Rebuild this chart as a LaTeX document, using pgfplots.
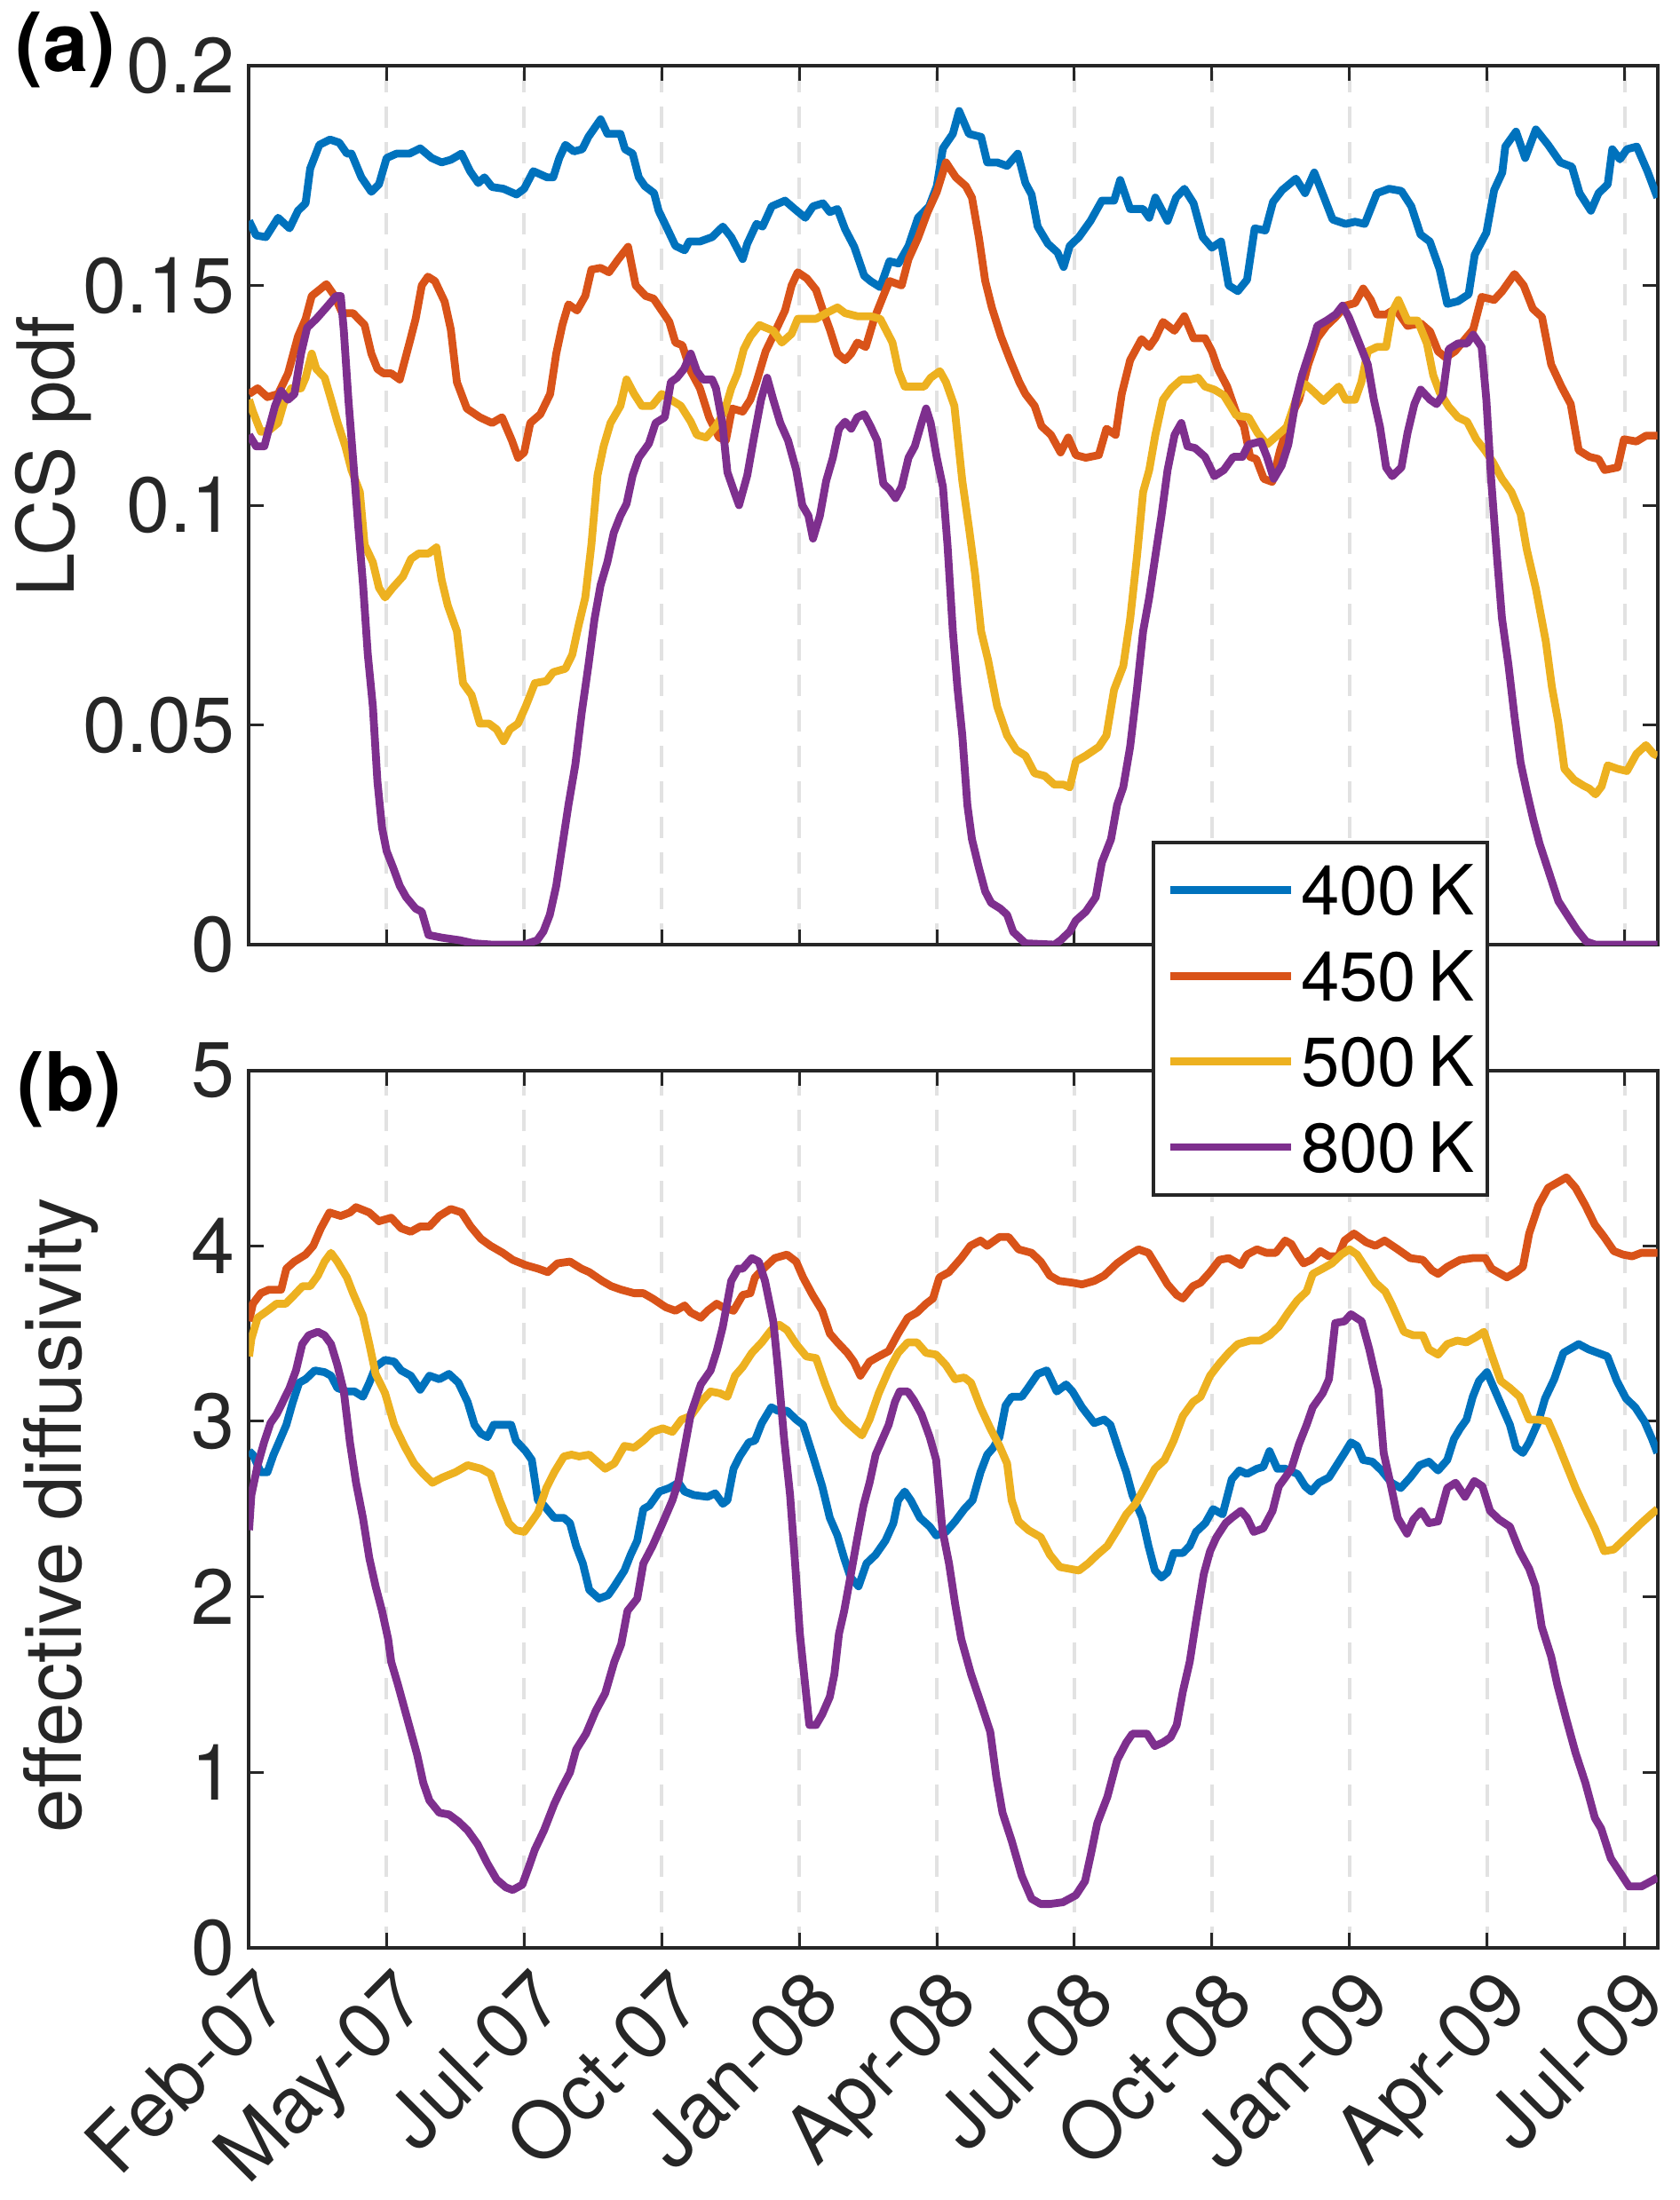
\documentclass[border=0pt]{standalone}
\usepackage{fontspec}
\setmainfont{TeX Gyre Heros}
\usepackage{pgfplots}
\pgfplotsset{compat=1.18}
\definecolor{c1}{HTML}{0072BD}
\definecolor{c2}{HTML}{D95319}
\definecolor{c3}{HTML}{EDB120}
\definecolor{c4}{HTML}{7E2F8E}
\definecolor{axgray}{HTML}{262626}
\definecolor{gridgray}{HTML}{E2E2E2}
\pgfplotsset{
  myaxis/.style={
    scale only axis, width=396.5pt,
    xmin=0, xmax=921.5,
    xtick={0,90,...,900},
    tick align=inside,
    major tick length=4.25pt,
    every tick/.style={axgray, line width=0.75pt},
    axis line style={axgray, line width=1pt},
    xmajorgrids, grid style={gridgray, line width=1pt, dash pattern=on 6pt off 4pt},
    tick label style={font=\fontsize{22}{22}\selectfont, text=axgray},
    yticklabel style={anchor=east, inner sep=0pt, xshift=-3.8pt},
    ylabel style={font=\fontsize{22.2}{22.2}\selectfont, text=axgray, anchor=center, inner sep=0pt},
    every axis plot/.append style={line width=2.2pt, line join=round},
  }
}
\begin{document}
\begin{tikzpicture}
\useasboundingbox (0,0) rectangle (473pt,-619.5pt);
\begin{axis}[myaxis, at={(70.125pt,-266pt)}, anchor=south west, height=247.5pt,
  ymin=0, ymax=0.2, ytick={0,0.05,0.1,0.15,0.2}, yticklabels={0,0.05,0.1,0.15,0.2},
  xticklabels={}, ylabel={LCS pdf},
  ylabel style={at={(axis description cs:-0.139,0.5556)}}]
\addplot[c1] coordinates {(0,0.1647) (4.6,0.1614) (11,0.161) (19,0.1654) (26.5,0.163) (32,0.167) (37,0.1687) (40,0.1766) (46,0.182) (53,0.1832) (59,0.1825) (64,0.180) (67,0.180) (73.5,0.1746) (80,0.1713) (85,0.173) (90,0.179) (96.5,0.180) (105,0.180) (112,0.1812) (119.5,0.179) (126,0.178) (132,0.1786) (139,0.180) (144.6,0.176) (150,0.1733) (154,0.1746) (159,0.1724) (166.5,0.172) (175,0.1707) (180,0.172) (186,0.176) (195,0.1746) (199,0.1746) (203,0.179) (207,0.182) (212.5,0.1805) (218,0.181) (222,0.1838) (230,0.1878) (234.5,0.1845) (243,0.1845) (246,0.181) (251,0.180) (255,0.1746) (259,0.1726) (265,0.171) (268,0.167) (273,0.1634) (279,0.159) (285,0.158) (288,0.160) (295,0.160) (303,0.161) (310,0.1634) (315.5,0.161) (323,0.156) (326,0.1595) (332,0.164) (336,0.1634) (342,0.168) (350.7,0.1693) (357,0.1674) (364,0.1654) (369,0.168) (375.5,0.1687) (380,0.1667) (385,0.1674) (390,0.1628) (396,0.1588) (402.5,0.1522) (406.6,0.151) (413,0.1496) (419,0.1555) (425,0.155) (431.5,0.159) (437.7,0.1654) (445,0.168) (450,0.1726) (454,0.1812) (460.5,0.1845) (464.6,0.1897) (471,0.1845) (479,0.1838) (483,0.178) (489.5,0.178) (496,0.1772) (503,0.180) (508,0.1733) (512,0.1707) (516,0.1634) (522.7,0.1595) (529,0.1575) (533,0.1542) (537,0.159) (543,0.161) (550.6,0.1647) (558,0.1693) (566,0.1693) (570,0.174) (576.5,0.1674) (585,0.1674) (589,0.1654) (593,0.170) (601,0.1647) (606.6,0.170) (612,0.172) (618,0.1687) (624,0.161) (630,0.1586) (636,0.160) (641,0.150) (647,0.1487) (653,0.1513) (658,0.163) (665,0.1625) (670,0.169) (676,0.1717) (685,0.1743) (691,0.171) (697,0.1757) (703,0.1704) (709,0.165) (717.5,0.164) (723.7,0.1645) (730,0.164) (738,0.171) (746,0.172) (754,0.1715) (760.5,0.168) (766.5,0.1616) (772.6,0.160) (779,0.1537) (784,0.1458) (791,0.1464) (798,0.148) (802,0.157) (809.6,0.162) (814.7,0.1717) (820,0.1757) (822,0.1816) (829,0.185) (835,0.179) (842,0.1855) (850,0.182) (858,0.178) (865.6,0.177) (870.6,0.171) (878,0.167) (883,0.171) (889,0.173) (892,0.181) (897,0.1787) (901.6,0.181) (908,0.1816) (915,0.176) (921.5,0.170)};
\addplot[c2] coordinates {(0,0.1253) (5.6,0.1266) (12,0.1246) (19,0.1253) (25.5,0.130) (32,0.1384) (37,0.1424) (41,0.1476) (46,0.149) (50.6,0.1503) (56,0.1476) (61,0.1437) (68,0.1437) (75.6,0.141) (80,0.1345) (84,0.131) (88,0.130) (93,0.130) (98.6,0.1286) (105,0.137) (109,0.1424) (113,0.150) (117,0.152) (121.6,0.151) (128,0.1463) (132,0.140) (136,0.128) (142.5,0.122) (151,0.120) (159,0.1187) (165.5,0.120) (172,0.1147) (176,0.1108) (180,0.112) (184,0.1187) (190.6,0.1207) (197,0.1253) (201,0.1345) (205,0.141) (209,0.1457) (214.6,0.1443) (220,0.1476) (224,0.1536) (230,0.154) (235.5,0.153) (241.7,0.156) (248,0.1588) (253,0.150) (259.5,0.1476) (264.7,0.147) (270,0.1443) (275,0.1417) (279,0.137) (283.5,0.1364) (289,0.1305) (295,0.1266) (301,0.120) (307.5,0.1154) (312,0.1147) (316,0.122) (323,0.1213) (328,0.124) (332,0.128) (338,0.135) (344.5,0.1397) (350.7,0.1443) (355,0.150) (359,0.153) (365,0.1516) (371,0.149) (375.5,0.1443) (380,0.140) (385,0.1345) (390,0.133) (394,0.1345) (398,0.137) (403.5,0.136) (409,0.1424) (415,0.1476) (419,0.151) (427,0.150) (431.5,0.156) (437.7,0.1608) (444,0.1667) (450,0.1713) (456,0.178) (462.5,0.1746) (469,0.1726) (473,0.170) (477.6,0.1608) (481.7,0.151) (486,0.145) (492,0.1384) (498,0.133) (504,0.128) (508,0.1253) (514,0.1226) (518.5,0.118) (524.7,0.116) (531,0.112) (536,0.1154) (541,0.1114) (547.5,0.1108) (556,0.1114) (561,0.1174) (567,0.116) (571,0.1253) (576.5,0.133) (584,0.1378) (589,0.136) (593,0.138) (598,0.1417) (605.5,0.1397) (612,0.143) (618,0.138) (625.5,0.138) (630,0.135) (634,0.131) (640,0.127) (646,0.121) (651,0.118) (655,0.111) (659,0.1105) (664,0.106) (669.5,0.1053) (674.6,0.1125) (681,0.1197) (687,0.124) (693,0.132) (699,0.138) (705,0.1408) (711,0.1428) (717.5,0.1454) (723.7,0.146) (729,0.1493) (734,0.1467) (738,0.1434) (744,0.1434) (750,0.1447) (758,0.1408) (766.6,0.1414) (772.8,0.1395) (778,0.135) (783,0.1336) (789,0.135) (795,0.1375) (801,0.140) (806.5,0.1474) (814.7,0.1467) (820,0.1487) (828,0.1526) (834,0.150) (840,0.1447) (846,0.1428) (852,0.132) (858.7,0.127) (864.8,0.123) (870,0.1125) (877,0.111) (883,0.1105) (887,0.108) (895.5,0.1086) (899.6,0.115) (907.8,0.1145) (914,0.1158) (921.5,0.1158)};
\addplot[c3] coordinates {(0,0.124) (2.5,0.1213) (7.7,0.1167) (13,0.117) (19,0.1187) (23.4,0.124) (27.6,0.1266) (34,0.1266) (37,0.129) (41,0.1345) (44,0.131) (49.5,0.129) (53.7,0.124) (58,0.1187) (63,0.1134) (67,0.108) (72.5,0.103) (75.6,0.091) (81,0.087) (85,0.0812) (89,0.079) (94,0.0812) (100.7,0.0838) (106,0.0878) (111,0.089) (117.4,0.089) (122.6,0.0904) (126,0.083) (130,0.0772) (136,0.0713) (140,0.0595) (145.6,0.0568) (151,0.0503) (157,0.0503) (162,0.049) (166.5,0.0463) (170.7,0.049) (176,0.0503) (181,0.0542) (187,0.0595) (194.7,0.060) (199,0.062) (207,0.0628) (211.5,0.066) (215.6,0.0726) (220,0.079) (224,0.091) (228,0.1068) (232,0.1134) (236.5,0.1187) (243,0.1226) (247,0.1286) (252,0.1253) (257,0.1226) (263.7,0.1226) (270,0.1253) (276,0.124) (282.5,0.1226) (289,0.119) (293,0.116) (299,0.1154) (305.5,0.118) (311,0.1213) (315.5,0.1266) (319.6,0.130) (323.7,0.1355) (328,0.1384) (334,0.141) (338,0.1404) (343,0.1397) (348.6,0.137) (355,0.139) (359,0.1424) (365,0.1424) (371,0.1424) (377.6,0.1437) (385,0.145) (390,0.1437) (398,0.143) (406.6,0.143) (413,0.1424) (417,0.1397) (421,0.137) (425,0.1305) (429,0.127) (435.6,0.127) (441.8,0.127) (446,0.129) (452,0.1305) (456,0.128) (461.5,0.1226) (466.7,0.1055) (471,0.095) (475,0.0845) (479,0.0713) (483.6,0.0647) (489.5,0.0542) (496,0.0476) (502,0.0443) (508,0.043) (514,0.039) (520.6,0.0384) (527,0.0364) (533,0.0364) (537,0.0358) (541,0.0417) (547.5,0.043) (556,0.045) (561,0.0476) (566,0.058) (572,0.0634) (576.5,0.074) (581,0.0884) (585,0.103) (589,0.108) (593,0.116) (598,0.124) (603.5,0.1266) (610,0.1286) (616,0.1286) (621,0.129) (625.5,0.127) (631.6,0.1263) (637.8,0.125) (646,0.1204) (654,0.120) (660,0.1164) (666,0.1138) (672.6,0.1158) (679,0.1178) (685,0.124) (691,0.1276) (697,0.1257) (703,0.1237) (709,0.1257) (713,0.127) (717.5,0.124) (723.7,0.124) (727.8,0.128) (732,0.135) (738,0.136) (744,0.136) (748,0.144) (752,0.1467) (758,0.142) (764.6,0.142) (770.7,0.1368) (774.8,0.1296) (779,0.1257) (785,0.1224) (791,0.120) (797,0.119) (803,0.115) (808.6,0.1125) (813.7,0.1099) (819.8,0.106) (826,0.103) (832,0.098) (836,0.090) (842,0.081) (848.5,0.069) (852.5,0.0586) (856.6,0.0507) (860.7,0.040) (867,0.0375) (873,0.0362) (877,0.0355) (881,0.0342) (885,0.036) (889,0.0408) (895.5,0.040) (901.6,0.0395) (907.8,0.0434) (914,0.0454) (919,0.0434) (921.5,0.043)};
\addplot[c4] coordinates {(0,0.116) (4.6,0.1134) (10,0.1134) (13,0.1174) (17,0.1226) (21,0.126) (25.5,0.124) (29.7,0.1253) (34,0.1345) (38,0.1404) (44,0.1424) (50.6,0.145) (57,0.1476) (60,0.1476) (62,0.1397) (65,0.124) (68,0.1108) (71.5,0.095) (74.6,0.0818) (77.7,0.066) (81,0.0542) (84,0.0371) (87,0.0266) (90,0.0213) (94.4,0.0174) (98.6,0.0134) (102.8,0.0108) (109,0.0082) (113,0.0075) (117.4,0.0022) (126,0.0016) (138,0.001) (147,0.0003) (159,0) (180,0) (188.5,0.001) (192.6,0.003) (196.8,0.0068) (201,0.0134) (205,0.0226) (209,0.0318) (213.5,0.041) (217.7,0.0529) (222,0.0634) (226,0.074) (230,0.0818) (234.5,0.0871) (238.6,0.0937) (243,0.0976) (247,0.1003) (251,0.1068) (255,0.1108) (261.6,0.114) (266,0.1187) (272,0.120) (276,0.128) (280,0.129) (284.6,0.131) (289,0.1345) (293,0.1305) (297,0.1286) (303,0.1286) (305.5,0.1266) (309.7,0.1187) (313,0.1075) (317.5,0.103) (320.6,0.100) (326,0.1068) (330,0.1147) (335,0.124) (339,0.129) (343,0.124) (347.6,0.1187) (352.7,0.1147) (358,0.108) (362,0.100) (366,0.0976) (369,0.0924) (373.5,0.0976) (377.6,0.1055) (382,0.1108) (386,0.1174) (390,0.119) (394,0.1174) (398,0.120) (402.5,0.1207) (406.6,0.118) (411,0.1147) (415,0.1049) (419,0.1036) (423,0.1016) (427,0.1042) (431.5,0.1108) (435.6,0.1134) (440,0.1187) (443,0.122) (446,0.1187) (450,0.1108) (454,0.1042) (457,0.091) (460.5,0.0713) (463.6,0.0582) (466.7,0.0476) (470,0.0318) (473,0.024) (477.6,0.0174) (481.7,0.0121) (485.6,0.0095) (491.6,0.0082) (496,0.0068) (500,0.0029) (508,0.0003) (527,0) (531,0.001) (537,0.003) (541,0.0055) (547.5,0.0075) (554,0.0108) (558,0.0187) (564,0.024) (568,0.0318) (572,0.0358) (576.5,0.045) (581,0.0582) (585,0.0713) (589,0.079) (593,0.0884) (597,0.0976) (601,0.108) (605.6,0.116) (610,0.1187) (614,0.1134) (619,0.113) (625.5,0.111) (631.6,0.1066) (637.8,0.108) (644,0.111) (650,0.111) (654,0.1138) (662,0.1145) (666,0.111) (670.5,0.106) (675.6,0.109) (680,0.1138) (685,0.124) (689,0.1296) (695,0.136) (699,0.1408) (705,0.142) (711,0.1434) (715.5,0.1454) (719.6,0.1428) (725.7,0.1375) (732,0.132) (736,0.124) (740,0.1178) (744,0.1086) (748,0.1066) (754,0.1086) (758,0.1164) (762.5,0.123) (766.6,0.1263) (772.8,0.124) (777,0.123) (781,0.125) (785,0.1355) (791,0.1368) (797,0.1368) (801,0.1388) (806.5,0.136) (809.6,0.124) (812.7,0.106) (816.7,0.0876) (819.8,0.0743) (824,0.0638) (828,0.052) (832,0.0414) (836,0.0349) (840.4,0.0283) (844.4,0.023) (850.6,0.0164) (856.7,0.0099) (862.8,0.0066) (869,0.0033) (875,0.0007) (881,0) (921.5,0)};
\end{axis}
\node[font=\bfseries\fontsize{23}{23}\selectfont, inner sep=0pt] at (18.5pt,-14pt) {(a)};
\node[font=\bfseries\fontsize{23}{23}\selectfont, inner sep=0pt] at (19.6pt,-306.8pt) {(b)};
\begin{axis}[myaxis, at={(70.125pt,-548.5pt)}, anchor=south west, height=247.125pt,
  ymin=0, ymax=5, ytick={0,1,2,3,4,5}, yticklabels={0,1,2,3,4,5},
  xticklabels={Feb-07,May-07,Jul-07,Oct-07,Jan-08,Apr-08,Jul-08,Oct-08,Jan-09,Apr-09,Jul-09},
  xticklabel style={xshift=1pt, yshift=-4.25pt, rotate=45, anchor=north east, inner sep=0pt},
  ylabel={effective diffusivity},
  ylabel style={at={(axis description cs:-0.1334,0.493)}},
  legend cell align=left,
  legend image code/.code={\draw[#1] (0pt,0pt) -- (33.9pt,0pt);},
  legend style={at={(axis description cs:0.641,1.2615)}, anchor=north west,
    draw=axgray, line width=1pt, fill=white, inner xsep=3.7pt, inner ysep=6.45pt,
    font=\fontsize{19.5}{19.5}\selectfont, text=black, row sep=10.1pt, column sep=1.7pt,
    nodes={inner sep=0pt, text height=14pt, text depth=0pt}}]
\addplot[c1] coordinates {(0,2.83) (2.5,2.81) (7.7,2.71) (12,2.71) (16,2.81) (20,2.89) (24.4,2.98) (28.6,3.11) (32.8,3.22) (37,3.24) (43,3.29) (49.4,3.28) (53.6,3.26) (57.8,3.19) (64,3.17) (69,3.17) (74.5,3.14) (78.7,3.22) (82.8,3.31) (89,3.35) (95,3.34) (99.5,3.29) (105.8,3.26) (112,3.18) (118,3.26) (124.5,3.24) (130.8,3.27) (137,3.22) (143,3.11) (147.5,2.98) (151.7,2.93) (156,2.91) (160,2.98) (166,2.98) (171.5,2.98) (174.6,2.89) (181,2.83) (185,2.78) (189,2.55) (193,2.52) (199.7,2.45) (206,2.45) (210,2.42) (214,2.29) (218.4,2.19) (222.6,2.04) (229,1.99) (235,2.01) (239,2.06) (245.6,2.15) (249.7,2.24) (254,2.32) (258,2.50) (262,2.52) (268.5,2.60) (275,2.62) (281,2.65) (285,2.60) (291,2.58) (300,2.57) (305,2.59) (310,2.53) (313,2.55) (317,2.73) (321,2.80) (327,2.88) (331,2.89) (335.5,2.99) (341.7,3.08) (346,3.06) (352,3.06) (358,3.01) (362.5,2.98) (368.7,2.81) (375,2.63) (380,2.45) (385,2.35) (389.4,2.22) (393.6,2.11) (398.8,2.06) (404,2.19) (410,2.24) (416.4,2.32) (421.6,2.42) (424.7,2.55) (429,2.60) (433,2.55) (439,2.45) (445.4,2.40) (449.6,2.35) (456,2.37) (462,2.43) (468,2.50) (473.4,2.55) (478.6,2.71) (483,2.81) (487,2.85) (491,2.91) (495,3.09) (499,3.14) (505.6,3.14) (509.7,3.19) (516,3.27) (522,3.29) (528.5,3.17) (534.6,3.21) (538.8,3.17) (545,3.08) (553,2.99) (559.5,3.01) (563.6,2.98) (570,2.81) (574,2.71) (578,2.58) (584.4,2.45) (588.5,2.29) (592.7,2.15) (597,2.11) (601,2.14) (605,2.25) (611,2.25) (615.5,2.29) (619.6,2.37) (625.7,2.42) (630.8,2.50) (637,2.47) (643,2.67) (648,2.72) (653,2.70) (659.5,2.73) (663.6,2.74) (667.7,2.83) (672.8,2.73) (678,2.73) (686,2.70) (691,2.63) (695,2.60) (700,2.65) (706.6,2.68) (711.7,2.75) (716.8,2.82) (721,2.88) (725,2.86) (729,2.78) (735,2.77) (741,2.72) (747.5,2.65) (753.6,2.62) (759.8,2.68) (766,2.75) (772,2.77) (778,2.72) (784,2.78) (788.4,2.90) (792.5,2.96) (796.6,3.01) (800.7,3.14) (804.8,3.23) (810,3.28) (815,3.18) (820,3.08) (825,2.98) (829,2.85) (833.5,2.82) (837.6,2.88) (843.7,3.00) (848,3.13) (854,3.24) (860,3.39) (866,3.42) (870,3.44) (876.5,3.41) (882.6,3.39) (888.8,3.37) (895,3.23) (901,3.13) (907,3.08) (913,3.00) (918,2.90) (921.5,2.82)};
\addlegendentry{400\,K}
\addplot[c2] coordinates {(0,3.57) (2.5,3.67) (7.7,3.73) (13,3.75) (21,3.75) (24.4,3.87) (29.6,3.91) (37,3.95) (42,4.00) (47,4.10) (52.6,4.19) (60,4.17) (66,4.19) (70,4.22) (78.6,4.19) (85,4.14) (93,4.16) (99.5,4.10) (105.8,4.08) (112,4.11) (118,4.11) (124.5,4.17) (132,4.21) (139,4.19) (145,4.11) (151.7,4.04) (158,4.00) (166,3.96) (172.5,3.92) (181,3.89) (189,3.87) (195.5,3.85) (201.8,3.90) (210,3.91) (217.4,3.87) (222.6,3.85) (231,3.80) (237,3.77) (243.5,3.75) (252,3.73) (258,3.73) (264,3.70) (272.7,3.65) (279,3.63) (285,3.66) (289,3.62) (295.6,3.59) (300,3.63) (306,3.67) (310,3.65) (317,3.63) (323,3.72) (328,3.73) (331,3.82) (336.6,3.87) (344,3.93) (352,3.95) (358,3.91) (362.5,3.82) (368.7,3.72) (375,3.63) (380,3.50) (385,3.45) (391.5,3.39) (395.7,3.34) (400,3.26) (406,3.34) (412,3.37) (418.5,3.40) (424.7,3.50) (431,3.59) (437,3.62) (443,3.67) (447.5,3.70) (451.7,3.82) (458,3.85) (466,3.93) (472,4.00) (478.6,4.03) (483,4.00) (491,4.05) (497,4.05) (503.5,3.98) (512,3.96) (518,3.91) (524,3.83) (530,3.80) (538.8,3.79) (545,3.78) (553,3.80) (559.5,3.83) (568,3.90) (576,3.95) (582,3.98) (588.5,3.96) (594.8,3.87) (601,3.78) (607,3.72) (611,3.70) (617.6,3.77) (622.6,3.79) (628.8,3.85) (635,3.92) (641,3.93) (649,3.89) (653,3.95) (659.5,3.98) (665.6,3.96) (671.8,3.96) (678,4.03) (682,4.01) (686,3.95) (690,3.90) (695,3.92) (701,3.97) (706.6,3.94) (712.7,3.94) (716.8,4.03) (723,4.07) (731,4.02) (737,4.00) (743,4.03) (751.6,3.98) (759.8,3.93) (768,3.92) (774,3.86) (778,3.84) (784,3.88) (792.5,3.92) (800.7,3.93) (808.9,3.93) (813,3.87) (819,3.84) (823,3.82) (829,3.85) (833.5,3.88) (837.6,4.07) (843.7,4.23) (850,4.33) (856,4.36) (862,4.39) (868,4.33) (874.4,4.23) (880.6,4.12) (886.7,4.05) (893,3.97) (899,3.95) (905,3.94) (911,3.96) (921.5,3.96)};
\addlegendentry{450\,K}
\addplot[c3] coordinates {(0,3.37) (1.5,3.47) (5.6,3.59) (12,3.63) (18,3.67) (24,3.67) (29.6,3.72) (35,3.77) (40,3.77) (45,3.83) (49.4,3.91) (53.6,3.96) (57.8,3.91) (64,3.82) (68,3.73) (74.5,3.60) (78.7,3.44) (82.8,3.27) (89,3.16) (95,2.98) (101.6,2.86) (108,2.76) (114,2.70) (120,2.65) (126.6,2.68) (135,2.71) (143,2.75) (151.7,2.73) (158,2.70) (164,2.55) (170,2.42) (174.6,2.38) (180,2.37) (185,2.43) (189,2.48) (194.5,2.62) (199.7,2.71) (206,2.80) (211,2.81) (216,2.80) (222.6,2.81) (229,2.76) (233,2.73) (239,2.76) (245.6,2.86) (252,2.85) (258,2.89) (264,2.94) (270.6,2.96) (277,2.94) (283,3.01) (289,3.03) (295.6,3.11) (302,3.17) (308,3.16) (313,3.14) (318,3.26) (323,3.31) (329,3.39) (335.5,3.45) (341.7,3.52) (347,3.55) (352,3.52) (358,3.44) (364.6,3.37) (371,3.36) (377,3.21) (383,3.08) (389.4,3.01) (395.7,2.96) (401,2.92) (406,3.01) (412,3.16) (418.5,3.29) (424.7,3.39) (431,3.45) (437,3.45) (443,3.39) (449.6,3.38) (456,3.32) (462,3.24) (468,3.25) (472.4,3.22) (478.6,3.08) (485,2.96) (491,2.86) (496,2.76) (499,2.55) (503.5,2.43) (510,2.38) (518,2.34) (524,2.24) (530.5,2.17) (536.7,2.16) (543,2.15) (549,2.19) (555,2.24) (561.6,2.29) (568,2.38) (574,2.47) (580,2.53) (586.5,2.63) (592.7,2.73) (599,2.78) (605,2.89) (611,3.03) (617.6,3.11) (622.6,3.14) (628.8,3.26) (635,3.33) (641,3.39) (647,3.44) (655,3.46) (661.5,3.46) (667.7,3.49) (673.8,3.54) (680,3.62) (686,3.69) (692,3.74) (696,3.84) (702.5,3.87) (708.6,3.90) (714.7,3.95) (720,3.98) (725,3.95) (731,3.87) (737,3.79) (743.4,3.74) (747.5,3.67) (751.6,3.59) (755.7,3.51) (761.8,3.49) (768,3.49) (772,3.41) (778,3.38) (784,3.44) (790.5,3.46) (796.6,3.45) (802.8,3.48) (808,3.51) (813,3.38) (819,3.23) (825,3.19) (831.4,3.14) (837.6,3.01) (843.7,3.01) (850,3.00) (856,2.88) (862,2.75) (868,2.62) (874.4,2.50) (880.6,2.39) (886.7,2.26) (893,2.27) (899,2.32) (905,2.37) (911,2.42) (917.4,2.47) (921.5,2.50)};
\addlegendentry{500\,K}
\addplot[c4] coordinates {(0,2.38) (1.5,2.58) (5.6,2.75) (9.8,2.88) (14,2.99) (18,3.04) (22,3.11) (26.5,3.19) (30.7,3.29) (34.8,3.44) (39,3.49) (45,3.51) (49.4,3.49) (53.6,3.44) (57.8,3.32) (62,3.17) (66,2.88) (70,2.65) (74.5,2.45) (78.7,2.22) (82.8,2.06) (87,1.92) (91,1.76) (93,1.63) (97.4,1.50) (103.7,1.30) (110,1.10) (114,0.94) (118,0.84) (124.5,0.77) (130.8,0.76) (137,0.72) (143,0.67) (149.6,0.59) (156,0.48) (162,0.39) (168,0.345) (172.5,0.33) (178.8,0.36) (183,0.46) (187,0.56) (193,0.67) (199.7,0.82) (204,0.90) (210,1.00) (214,1.13) (220.5,1.22) (226.8,1.35) (233,1.45) (239,1.63) (243.5,1.73) (247.6,1.92) (254,1.99) (258,2.19) (264,2.29) (270.6,2.42) (277,2.55) (281,2.66) (285,2.85) (289,3.04) (295.6,3.21) (302,3.29) (306,3.40) (310,3.54) (315.5,3.80) (320,3.87) (323,3.87) (329,3.93) (333.5,3.91) (337.6,3.80) (343,3.57) (346,3.31) (350,2.91) (354,2.58) (357.3,2.19) (360.4,1.79) (363.5,1.53) (366.6,1.27) (371,1.27) (375,1.33) (380,1.43) (383,1.56) (386,1.79) (389.4,1.92) (393.6,2.12) (397.7,2.32) (402,2.52) (406,2.65) (410,2.81) (414,2.89) (418.5,2.98) (422.6,3.11) (425.7,3.17) (431,3.17) (435,3.12) (440,3.04) (445.4,2.91) (449.6,2.78) (453.7,2.38) (458,2.19) (462,1.96) (466,1.76) (472.4,1.56) (478.6,1.40) (485,1.23) (489,0.97) (493,0.77) (499,0.61) (505.6,0.41) (512,0.28) (518,0.25) (524,0.25) (532.5,0.26) (541,0.30) (547,0.38) (551,0.54) (555,0.71) (561.6,0.86) (568,1.07) (574,1.17) (578,1.22) (582,1.22) (587.5,1.22) (592.7,1.15) (598,1.17) (603,1.20) (607,1.27) (611,1.46) (615.5,1.63) (619.6,1.86) (624.7,2.13) (628.8,2.26) (633,2.34) (639,2.42) (643,2.45) (649,2.49) (653,2.45) (657.4,2.37) (663.6,2.39) (669.7,2.49) (673.8,2.63) (678,2.68) (682,2.73) (687,2.87) (692,2.98) (696,3.08) (702.5,3.16) (706.6,3.24) (710.7,3.56) (716.8,3.57) (721,3.61) (728,3.57) (733,3.41) (739,3.18) (742.4,2.82) (747.5,2.62) (751.6,2.45) (757.7,2.36) (761.8,2.44) (767,2.49) (772,2.42) (778,2.43) (784,2.62) (789.5,2.65) (795.6,2.57) (801.7,2.66) (807,2.63) (812,2.49) (818,2.44) (825,2.40) (831.4,2.26) (837.6,2.16) (841.7,2.06) (845.8,1.83) (852,1.66) (856,1.50) (862,1.30) (868,1.11) (874.4,0.94) (880.6,0.74) (884.7,0.68) (891,0.51) (897,0.43) (903,0.35) (911,0.35) (917.4,0.38) (921.5,0.40)};
\addlegendentry{800\,K}
\end{axis}
\end{tikzpicture}
\end{document}
